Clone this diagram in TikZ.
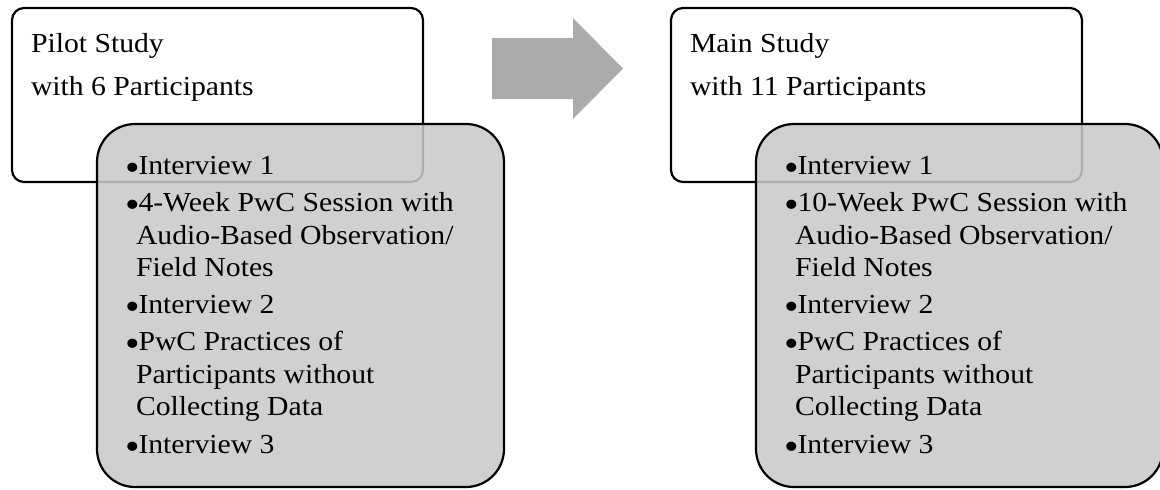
\documentclass[tikz,border=0pt]{standalone}
\usepackage{fontspec}
\setmainfont{Liberation Serif}[FakeStretch=1.08]
\usetikzlibrary{positioning}

\definecolor{stepsgray}{RGB}{201,201,201}
\definecolor{arrowgray}{RGB}{171,171,171}

\newcommand{\bul}{\makebox[12.5pt][l]{\hspace{-1pt}\raisebox{-6pt}{\scalebox{1.4}{\textbullet}}}}
\newcommand{\cont}{\hspace*{10pt}}

\begin{document}
\begin{tikzpicture}[x=1pt,y=1pt,node distance=248pt,outer sep=0pt,
                    font=\fontsize{27.5}{32.5}\selectfont]
  \tikzstyle{studybox}=[draw=black,line width=2.2pt,fill=white,rounded corners=12pt,
                        minimum width=411pt,minimum height=174pt]
  \tikzstyle{stepsbox}=[draw=black,line width=2.2pt,fill=stepsgray,fill opacity=0.87,
                        rounded corners=38pt,minimum width=407pt,minimum height=363pt]
  \tikzstyle{headtext}=[inner sep=0pt,align=left,anchor=base west,
                        font=\fontsize{27.5}{43}\selectfont]
  \tikzstyle{stepstext}=[inner sep=0pt,align=left,anchor=base west]

  \useasboundingbox (0,0) rectangle (1160,-490);

  \node[studybox]                  (pilot)      at (217.5,-95)   {};
  \node[stepsbox] [anchor=north west] (pilotsteps) at ([xshift=85pt,yshift=-116pt]pilot.north west) {};
  \node[studybox]                  (main)       [right=of pilot] {};
  \node[stepsbox] [anchor=north west] (mainsteps)  at ([xshift=85pt,yshift=-116pt]main.north west) {};

  % base anchor sits on the last line
  \node[headtext] (pilothead) at ([xshift=19pt,yshift=-87pt]pilot.north west)
        {Pilot Study\\with 6 Participants};
  \node[headtext] (mainhead)  at ([xshift=19pt,yshift=-87pt]main.north west)
        {Main Study\\with 11 Participants};

  \node[stepstext] (pilotlist) at ([xshift=29pt,yshift=-329pt]pilotsteps.north west)
        {\bul Interview 1\\[5pt]
         \bul 4-Week PwC Session with\\
         \cont Audio-Based Observation/\\
         \cont Field Notes\\[4pt]
         \bul Interview 2\\[5pt]
         \bul PwC Practices of\\
         \cont Participants without\\
         \cont Collecting Data\\[5pt]
         \bul Interview 3};
  \node[stepstext] (mainlist) at ([xshift=29pt,yshift=-329pt]mainsteps.north west)
        {\bul Interview 1\\[5pt]
         \bul 10-Week PwC Session with\\
         \cont Audio-Based Observation/\\
         \cont Field Notes\\[4pt]
         \bul Interview 2\\[5pt]
         \bul PwC Practices of\\
         \cont Participants without\\
         \cont Collecting Data\\[5pt]
         \bul Interview 3};

  % block arrow from pilot to main study
  \fill[arrowgray] (492,-38) -- (573,-38) -- (573,-18) -- (623,-68.5)
                   -- (573,-119) -- (573,-99) -- (492,-99) -- cycle;
\end{tikzpicture}
\end{document}
